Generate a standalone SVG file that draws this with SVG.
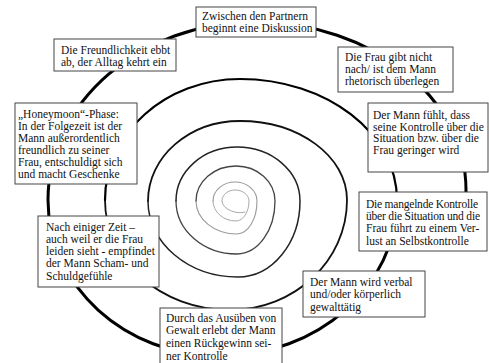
<svg xmlns="http://www.w3.org/2000/svg" width="489" height="363" viewBox="0 0 489 363">
<style>
.box{fill:#fff;stroke:#444;stroke-width:1}
.t{font-family:"Liberation Serif","Times New Roman",serif;font-size:11.5px;fill:#111}
.sp{fill:none;stroke-linecap:round}
</style>
<rect width="489" height="363" fill="#fff"/>
<g id="connectors">
<path class="sp" stroke="#aaa" stroke-width="1" d="M245,212 C237,215 222,209 222,201 C222,194.9 227.8,190 235,190 C242.7,190 249,194.9 249,201 C249,212 243.2,221 236,221 C223.3,221 213,212 213,201"/>
<path class="sp" stroke="#999" stroke-width="1.1" d="M213,201 C213,190.5 222.9,182 235,182 C247.1,182 257,190.5 257,201 C257,219.2 248,234 237,234 C214.4,234 196,219.2 196,201"/>
<path class="sp" stroke="#444" stroke-width="1.3" d="M196,201 C196,181.7 213.9,166 236,166 C257.5,166 275,181.7 275,201 C275,230.3 258,254 237,254 C203.3,254 176,230.3 176,201"/>
<path class="sp" stroke="#222" stroke-width="1.5" d="M176,201 C176,171.2 203.3,147 237,147 C271.8,147 300,171.2 300,201 C300,243 272.2,277 238,277 C188.3,277 148,243 148,201"/>
<path class="sp" stroke="#111" stroke-width="1.8" d="M148,201 C148,156.8 189.2,121 240,121 C299.1,121 347,156.4 347,200 C347,260.7 294.6,310 230,310 C161,310 105,260.7 105,200"/>
<path class="sp" stroke="#000" stroke-width="2.2" d="M105,200 C105,133.2 165.5,79 240,79 C326.7,79 397,133.2 397,200"/>
<path class="sp" stroke="#000" stroke-width="3" d="M397,200 C397,286.1 317.7,356 220,356 C125.1,356 48,286.1 48,200 C48,101.7 140.7,22 255,22 C371.5,22 466,97.3 466,190 C466,200 465,208 462,216"/>
</g>
<g id="n1">
<rect class="box" x="196" y="7" width="120" height="30"/>
<text class="t" x="202" y="19.5">Zwischen den Partnern</text>
<text class="t" x="202" y="31.5">beginnt eine Diskussion</text>
</g>
<g id="n2">
<rect class="box" x="338" y="47" width="115" height="45"/>
<text class="t" x="345" y="61">Die Frau gibt nicht</text>
<text class="t" x="345" y="73">nach/ ist dem Mann</text>
<text class="t" x="345" y="85">rhetorisch überlegen</text>
</g>
<g id="n3">
<rect class="box" x="368" y="103" width="120" height="69"/>
<text class="t" x="373" y="119">Der Mann fühlt, dass</text>
<text class="t" x="373" y="130.7">seine Kontrolle über die</text>
<text class="t" x="373" y="142.3">Situation bzw. über die</text>
<text class="t" x="373" y="154">Frau geringer wird</text>
</g>
<g id="n4">
<rect class="box" x="359" y="192" width="128" height="59"/>
<text class="t" x="366" y="208" textLength="112" lengthAdjust="spacing">Die mangelnde Kontrolle</text>
<text class="t" x="366" y="220" textLength="114" lengthAdjust="spacing">über die Situation und die</text>
<text class="t" x="366" y="232">Frau führt zu einem Ver-</text>
<text class="t" x="366" y="244.5">lust an Selbstkontrolle</text>
</g>
<g id="n5">
<rect class="box" x="303" y="271" width="122" height="46"/>
<text class="t" x="310" y="286">Der Mann wird verbal</text>
<text class="t" x="310" y="298">und/oder körperlich</text>
<text class="t" x="310" y="310.5">gewalttätig</text>
</g>
<g id="n6">
<rect class="box" x="160" y="308" width="122" height="60"/>
<text class="t" x="166" y="321.5">Durch das Ausüben von</text>
<text class="t" x="166" y="334">Gewalt erlebt der Mann</text>
<text class="t" x="166" y="347">einen Rückgewinn sei-</text>
<text class="t" x="166" y="359.5">ner Kontrolle</text>
</g>
<g id="n7">
<rect class="box" x="38" y="216" width="121" height="71"/>
<text class="t" x="46" y="230.5">Nach einiger Zeit –</text>
<text class="t" x="46" y="243">auch weil er die Frau</text>
<text class="t" x="46" y="254.5">leiden sieht - empfindet</text>
<text class="t" x="46" y="267">der Mann Scham- und</text>
<text class="t" x="46" y="279.5">Schuldgefühle</text>
</g>
<g id="n8">
<rect class="box" x="15" y="103" width="122" height="81"/>
<text class="t" x="18" y="117.5">„Honeymoon“-Phase:</text>
<text class="t" x="18" y="129.6">In der Folgezeit ist der</text>
<text class="t" x="18" y="141.7">Mann außerordentlich</text>
<text class="t" x="18" y="153.8">freundlich zu seiner</text>
<text class="t" x="18" y="165.9">Frau, entschuldigt sich</text>
<text class="t" x="18" y="178">und macht Geschenke</text>
</g>
<g id="n9">
<rect class="box" x="54" y="39" width="122" height="32"/>
<text class="t" x="61" y="54">Die Freundlichkeit ebbt</text>
<text class="t" x="61" y="66">ab, der Alltag kehrt ein</text>
</g>
</svg>
